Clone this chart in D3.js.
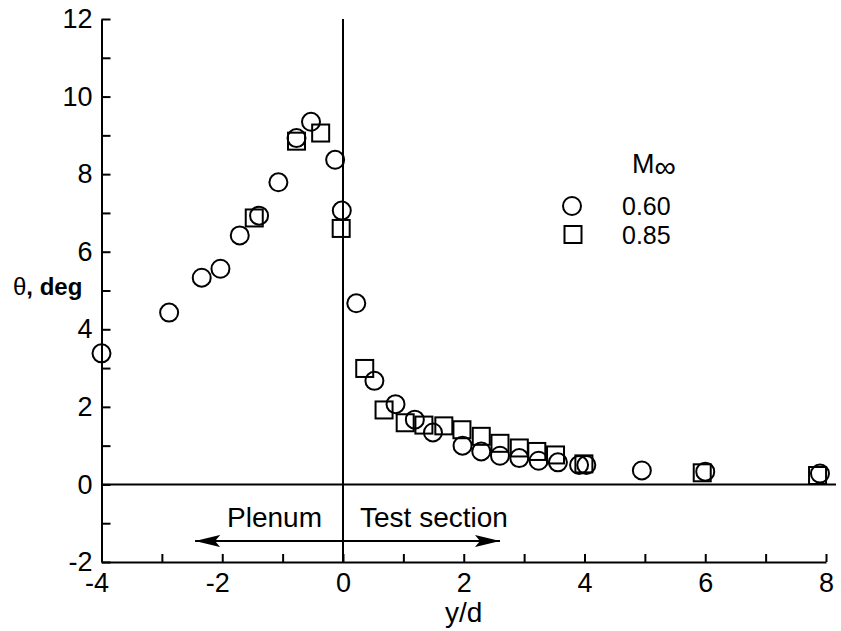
<!DOCTYPE html>
<html>
<head>
<meta charset="utf-8">
<script src="https://cdn.jsdelivr.net/npm/d3@7"></script>
<style>
  body { margin: 0; background: #fff; }
  svg { display: block; font-family: "Liberation Sans", Arial, Helvetica, sans-serif; }
  .axis path, .axis line { stroke: #000; stroke-width: 2; }
  .axis text { font-size: 27px; fill: #000; font-family: "Liberation Sans", Arial, sans-serif; }
  .ref-line { stroke: #000; stroke-width: 2; }
  .pt { fill: none; stroke: #000; stroke-width: 2; }
</style>
</head>
<body>
<svg id="chart" width="841" height="631"></svg>
<script>
// axis ranges and ticks
const X_MIN = -4, X_MAX = 8, Y_MIN = -2, Y_MAX = 12;
const xTickValues = [-4, -3, -2, -1, 0, 1, 2, 3, 4, 5, 6, 7, 8];
const yTickValues = [-2, -1, 0, 1, 2, 3, 4, 5, 6, 7, 8, 9, 10, 11, 12];
const xTickLabels = [-4, -2, 0, 2, 4, 6, 8];
const yTickLabels = [-2, 0, 2, 4, 6, 8, 10, 12];

// series: [y/d, theta deg]
const machLabels = ["0.60", "0.85"];
const m060 = [
  [-4.0, 3.38], [-2.88, 4.43], [-2.34, 5.33], [-2.03, 5.56], [-1.71, 6.42],
  [-1.39, 6.93], [-1.07, 7.79], [-0.77, 8.93], [-0.53, 9.35], [-0.13, 8.37],
  [-0.02, 7.06], [0.22, 4.67], [0.52, 2.67], [0.87, 2.07], [1.19, 1.67],
  [1.49, 1.34], [1.98, 1.0], [2.29, 0.85], [2.6, 0.74], [2.92, 0.68],
  [3.24, 0.61], [3.56, 0.57], [3.91, 0.5], [4.03, 0.5], [4.95, 0.36],
  [6.0, 0.33], [7.9, 0.28]
];
const m085 = [
  [-1.47, 6.87], [-0.77, 8.85], [-0.37, 9.06], [-0.03, 6.6], [0.36, 2.99],
  [0.68, 1.92], [1.03, 1.59], [1.34, 1.53], [1.67, 1.51], [1.97, 1.41],
  [2.29, 1.24], [2.6, 1.06], [2.92, 0.94], [3.21, 0.85], [3.52, 0.76],
  [3.99, 0.53], [5.95, 0.3], [7.86, 0.23]
];

// plenum / test section arrow
const arrowSpan = [-2.45, 2.6];
const arrowLevel = -1.46;

const svgEl = d3.select("#chart");
const viewW = 841, viewH = 631;
const margin = { top: 19, right: 15, bottom: 69, left: 101.5 };
const innerW = viewW - margin.left - margin.right;
const innerH = viewH - margin.top - margin.bottom;

const g = svgEl.append("g")
  .attr("transform", `translate(${margin.left},${margin.top})`);

/* ---------- Scales & Axes ---------- */
const xScale = d3.scaleLinear().domain([X_MIN, X_MAX]).range([0, innerW]);
const yScale = d3.scaleLinear().domain([Y_MIN, Y_MAX]).range([innerH, 0]);

const xAxis = d3.axisBottom(xScale).tickValues(xTickValues)
  .tickSizeInner(-8).tickSizeOuter(0).tickPadding(11)
  .tickFormat(d => xTickLabels.includes(d) ? String(d) : "");
const yAxis = d3.axisLeft(yScale).tickValues(yTickValues)
  .tickSizeInner(-9).tickSizeOuter(0).tickPadding(9)
  .tickFormat(d => yTickLabels.includes(d) ? String(d) : "");

const gx = g.append("g").attr("class", "axis x-axis")
  .attr("transform", `translate(0,${innerH})`).call(xAxis);
gx.selectAll("text").attr("dx", d => d < 0 ? -5 : 0);

g.append("g").attr("class", "axis y-axis").call(yAxis);

g.append("text")
  .attr("x", innerW / 2).attr("y", innerH + 60).attr("text-anchor", "middle")
  .style("font-size", "28px").text("y/d");

const yLab = g.append("text")
  .attr("x", 13 - margin.left).attr("y", 295 - margin.top)
  .style("font-size", "24px");
yLab.append("tspan").text("θ");
yLab.append("tspan").style("font-weight", "bold").text(", deg");

/* ---------- Reference lines ---------- */
g.append("line").attr("class", "ref-line")
  .attr("x1", xScale(X_MIN)).attr("x2", xScale(X_MAX) + 10)
  .attr("y1", yScale(0)).attr("y2", yScale(0));
g.append("line").attr("class", "ref-line")
  .attr("x1", xScale(0)).attr("x2", xScale(0))
  .attr("y1", yScale(Y_MIN)).attr("y2", yScale(Y_MAX));

/* ---------- Arrow & region labels ---------- */
const defs = svgEl.append("defs");
defs.append("marker").attr("id", "head")
  .attr("viewBox", "0 0 25 12").attr("markerUnits", "userSpaceOnUse")
  .attr("markerWidth", 25).attr("markerHeight", 12)
  .attr("refX", 25).attr("refY", 6).attr("orient", "auto-start-reverse")
  .append("path").attr("d", "M0,0 L25,6 L0,12 L5,6 Z").attr("fill", "#000");

g.append("line").attr("class", "ref-line")
  .attr("x1", xScale(arrowSpan[0])).attr("x2", xScale(arrowSpan[1]))
  .attr("y1", yScale(arrowLevel)).attr("y2", yScale(arrowLevel))
  .attr("marker-start", "url(#head)").attr("marker-end", "url(#head)");

g.append("text").attr("x", xScale(0) - 21).attr("y", yScale(arrowLevel) - 14)
  .attr("text-anchor", "end").style("font-size", "28px").text("Plenum");
g.append("text").attr("x", xScale(0) + 17).attr("y", yScale(arrowLevel) - 14)
  .attr("text-anchor", "start").style("font-size", "28px").text("Test section");

/* ---------- Data points ---------- */
const R = 9, S = 17;

g.selectAll(".sq").data(m085).enter().append("rect")
  .attr("class", "pt sq")
  .attr("x", d => xScale(d[0]) - S / 2).attr("y", d => yScale(d[1]) - S / 2)
  .attr("width", S).attr("height", S);

g.selectAll(".ci").data(m060).enter().append("circle")
  .attr("class", "pt ci")
  .attr("cx", d => xScale(d[0])).attr("cy", d => yScale(d[1]))
  .attr("r", R);

/* ---------- Legend ---------- */
const rowGap = 28.5;
const leg = g.append("g").attr("transform", `translate(${572 - margin.left},${206 - margin.top})`);
const mTitle = leg.append("text").attr("x", 60).attr("y", -33).style("font-size", "27px");
mTitle.append("tspan").text("M");
mTitle.append("tspan").attr("dy", 4).style("font-size", "30px").text("∞");

leg.append("circle").attr("class", "pt").attr("cx", 0).attr("cy", 0).attr("r", R);
leg.append("rect").attr("class", "pt").attr("x", 1 - S / 2).attr("y", rowGap - S / 2)
  .attr("width", S).attr("height", S);
leg.selectAll(".lt").data(machLabels).enter().append("text")
  .attr("x", 50).attr("y", (d, i) => i * rowGap + 9)
  .style("font-size", "25px").text(d => d);
</script>
</body>
</html>
